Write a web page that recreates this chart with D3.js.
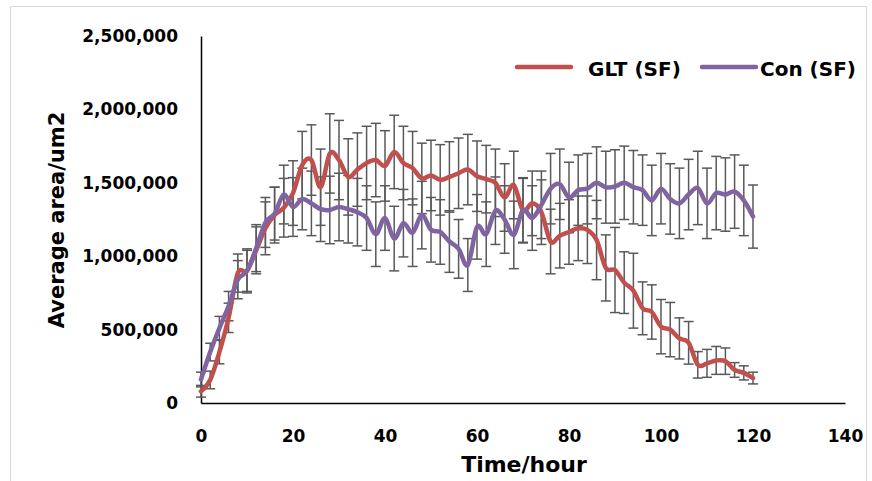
<!DOCTYPE html>
<html>
<head>
<meta charset="utf-8">
<script src="https://cdn.jsdelivr.net/npm/d3@7"></script>
<style>
  body { margin: 0; background: #fff; }
  svg { display: block; font-family: "DejaVu Sans", sans-serif; font-weight: 700; }
  .axis path { stroke: #000; stroke-width: 1.5; }
  .axis text { fill: #000; font-size: 17px; font-weight: 700; font-family: "DejaVu Sans", sans-serif; }
</style>
</head>
<body>
<svg id="chart" width="872" height="481"></svg>
<script>
// time points (hours), every 2 h from 0 to 120
const hours = d3.range(0, 122, 2);

// GLT (SF) mean area, thousands of um2
const gltMean = [80, 157, 347, 580, 885, 900, 1040, 1190, 1280, 1330,
  1430, 1620, 1655, 1470, 1700, 1655, 1540, 1590, 1635, 1655,
  1615, 1710, 1635, 1600, 1530, 1550, 1520, 1540, 1565, 1590,
  1545, 1525, 1500, 1400, 1485, 1310, 1360, 1300, 1100, 1140,
  1165, 1190, 1180, 1110, 920, 906, 820, 765, 645, 620,
  520, 500, 440, 410, 260, 270, 290, 285, 225, 205, 170];
const gltErr = [40, 60, 80, 100, 130, 140, 160, 180, 190, 200,
  220, 230, 240, 260, 270, 270, 260, 250, 250, 250,
  240, 250, 250, 250, 240, 240, 240, 240, 240, 240,
  240, 230, 230, 230, 230, 220, 220, 220, 220, 220,
  220, 220, 230, 270, 225, 290, 210, 255, 180, 185,
  185, 185, 140, 145, 90, 95, 95, 90, 50, 48, 40];

// Con (SF) mean area, thousands of um2
const conMean = [160, 347, 510, 660, 840, 900, 1055, 1230, 1290, 1420,
  1335, 1390, 1360, 1320, 1315, 1335, 1320, 1300, 1260, 1150,
  1260, 1120, 1225, 1160, 1280, 1180, 1165, 1100, 1050, 940,
  1200, 1150, 1310, 1250, 1145, 1315, 1260, 1350, 1460, 1490,
  1400, 1450, 1460, 1500, 1470, 1475, 1500, 1470, 1450, 1380,
  1460, 1390, 1360, 1420, 1465, 1360, 1430, 1420, 1440, 1380, 1270];
const conErr = [50, 60, 80, 100, 130, 150, 160, 170, 180, 200,
  200, 210, 220, 220, 230, 230, 230, 230, 220, 220,
  220, 220, 230, 230, 230, 220, 220, 210, 200, 180,
  220, 220, 230, 230, 230, 220, 220, 230, 240, 240,
  240, 240, 240, 245, 245, 250, 250, 250, 240, 240,
  240, 240, 240, 240, 250, 240, 250, 250, 250, 240, 215];

const yTicks = [0, 500000, 1000000, 1500000, 2000000, 2500000];
const xTicks = [0, 20, 40, 60, 80, 100, 120, 140];

const series = [
  { name: 'GLT (SF)', mean: gltMean, err: gltErr, color: '#C0504D' },
  { name: 'Con (SF)', mean: conMean, err: conErr, color: '#8064A2' }
];

const svg = d3.select('#chart');
const margin = { top: 36, right: 27, bottom: 78, left: 201 };
const W = 872 - margin.left - margin.right;
const H = 481 - margin.top - margin.bottom;

// outer chart frame
svg.append('rect')
  .attr('x', 10.5).attr('y', 6.5)
  .attr('width', 856).attr('height', 490)
  .attr('fill', 'none').attr('stroke', '#d9d9d9');

const g = svg.append('g').attr('transform', `translate(${margin.left},${margin.top})`);

const x = d3.scaleLinear().domain([0, 140]).range([0, W]);
const y = d3.scaleLinear().domain([0, 2500000]).range([H, 0]);

g.append('g').attr('class', 'axis')
  .attr('transform', `translate(0,${H})`)
  .call(d3.axisBottom(x).tickValues(xTicks).tickSize(0).tickPadding(27));

g.append('g').attr('class', 'axis')
  .call(d3.axisLeft(y).tickValues(yTicks).tickSize(0).tickPadding(23).tickFormat(d3.format(',')));

// error bars behind the lines
const cap = 5;
series.forEach(s => {
  const eb = g.append('g').attr('stroke', '#595959').attr('stroke-width', 1.5).attr('fill', 'none');
  hours.forEach((t, i) => {
    const cx = x(t);
    const hi = y((s.mean[i] + s.err[i]) * 1000);
    const lo = y((s.mean[i] - s.err[i]) * 1000);
    eb.append('line').attr('x1', cx).attr('x2', cx).attr('y1', hi).attr('y2', lo);
    eb.append('line').attr('x1', cx - cap).attr('x2', cx + cap).attr('y1', hi).attr('y2', hi);
    eb.append('line').attr('x1', cx - cap).attr('x2', cx + cap).attr('y1', lo).attr('y2', lo);
  });
});

const line = d3.line()
  .x((d, i) => x(hours[i]))
  .y(d => y(d * 1000))
  .curve(d3.curveCatmullRom.alpha(0));

series.forEach(s => {
  g.append('path')
    .datum(s.mean)
    .attr('fill', 'none')
    .attr('stroke', s.color)
    .attr('stroke-width', 4.5)
    .attr('stroke-linecap', 'round')
    .attr('d', line);
});

// axis titles
svg.append('text')
  .attr('x', 524).attr('y', 472)
  .attr('text-anchor', 'middle')
  .attr('font-size', 22)
  .text('Time/hour');

svg.append('text')
  .attr('transform', 'translate(64,220) rotate(-90)')
  .attr('text-anchor', 'middle')
  .attr('font-size', 21)
  .text('Average area/um2');

// legend
const legend = [
  { x1: 517, x2: 571, tx: 588 },
  { x1: 702, x2: 756, tx: 760 }
];
series.forEach((s, i) => {
  const L = legend[i];
  svg.append('line')
    .attr('x1', L.x1).attr('x2', L.x2).attr('y1', 67).attr('y2', 67)
    .attr('stroke', s.color).attr('stroke-width', 4.5).attr('stroke-linecap', 'round');
  svg.append('text')
    .attr('x', L.tx).attr('y', 76)
    .attr('font-size', 20)
    .text(s.name);
});
</script>
</body>
</html>
